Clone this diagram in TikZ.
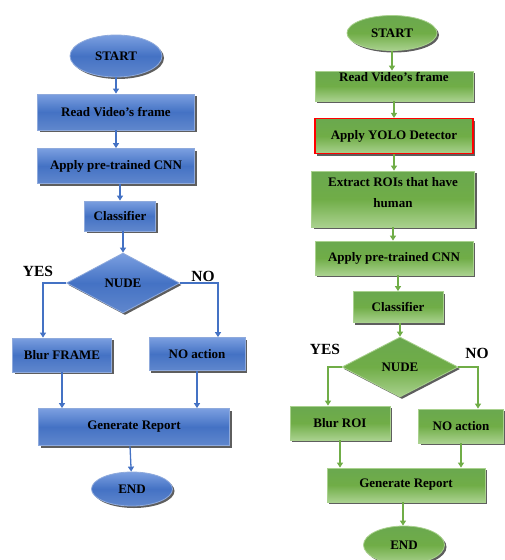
\documentclass[tikz,border=0pt]{standalone}
\usepackage{fontspec}
\setmainfont{Liberation Serif}
\usepackage{xcolor}
\usetikzlibrary{shapes.geometric,shadows,arrows.meta}

\definecolor{bluetop}{HTML}{7B9FE0}
\definecolor{bluemid}{HTML}{4472C4}
\definecolor{blueline}{HTML}{8FAADC}
\definecolor{greentop}{HTML}{6AA84F}
\definecolor{greenmid}{HTML}{70AD47}
\definecolor{greenlow}{HTML}{A9D18E}

\begin{document}
\begin{tikzpicture}[x=1pt,y=-1pt,
  shade/.style={drop shadow={shadow xshift=2pt,shadow yshift=-2pt,fill=black!70,opacity=0.9}},
  bluebox/.style={rectangle,shade,draw=blueline,line width=0.8pt,
    top color=bluetop,bottom color=bluemid!85!white,middle color=bluemid,
    inner sep=0pt,font=\fontsize{13}{15}\selectfont\bfseries},
  greenbox/.style={rectangle,shade,draw=greenlow,line width=0.8pt,
    top color=greentop,bottom color=greenlow,middle color=greenmid,
    inner sep=0pt,font=\fontsize{13}{15}\selectfont\bfseries},
  blueoval/.style={bluebox,ellipse},
  greenoval/.style={greenbox,ellipse},
  bluetest/.style={bluebox,diamond,aspect=2},
  greentest/.style={greenbox,diamond,aspect=2},
  blueflow/.style={draw=bluemid,line width=1.3pt,-{Triangle[width=6pt,length=5pt]}},
  greenflow/.style={draw=greenmid,line width=1.3pt,-{Triangle[width=6pt,length=5pt]}},
  answer/.style={font=\fontsize{15.5}{17}\selectfont\bfseries}]
\useasboundingbox (0,0) rectangle (504,560);

% left chart
\node[blueoval,minimum width=92,minimum height=42] (lstart) at (116,56) {START};
\node[bluebox,minimum width=157,minimum height=36] (lread) at (116,112) {Read Video's frame};
\node[bluebox,minimum width=157,minimum height=35] (lcnn) at (116,166) {Apply pre-trained CNN};
\node[bluebox,minimum width=71,minimum height=30] (lclass) at (120,216) {Classifier};
\node[bluetest,minimum width=113,minimum height=60] (lnude) at (123,283) {NUDE};
\node[bluebox,minimum width=99,minimum height=34] (lblur) at (62,355) {Blur FRAME};
\node[bluebox,minimum width=96,minimum height=33] (lno) at (197,354) {NO action};
\node[bluebox,minimum width=191,minimum height=37] (lrep) at (134,427) {Generate Report};
\node[blueoval,minimum width=81,minimum height=34] (lend) at (132,489) {END};
\node[answer] (lyes) at (38,271) {YES};
\node[answer] (lnolab) at (203,276) {NO};

\draw[blueflow] (lstart) -- (lread);
\draw[blueflow] (lread) -- (lcnn);
\draw[blueflow] (lcnn.south -| lclass) -- (lclass);
\draw[blueflow] (lclass.south -| lnude) -- (lnude);
\draw[blueflow] (lnude.west) -| ([xshift=-19pt]lblur.north);
\draw[blueflow] (lnude.east) -| ([xshift=21pt]lno.north);
\draw[blueflow] (lblur) -- (lblur |- lrep.north);
\draw[blueflow] (lno) -- (lno |- lrep.north);
\draw[blueflow] ([xshift=-4pt]lrep.south) -- (lend);

% right chart
\node[greenoval,minimum width=90,minimum height=35] (rstart) at (392,33) {START};
\node[greenbox,minimum width=158,minimum height=30,text height=9pt,text depth=18pt] (rread) at (394,86) {Read Video's frame};
\node[greenbox,draw=red,line width=1.2pt,minimum width=158,minimum height=35] (ryolo) at (394,136) {Apply YOLO Detector};
\node[greenbox,minimum width=163,minimum height=56,
  label={[anchor=north,yshift=-3pt,align=center,font=\fontsize{13}{21}\selectfont\bfseries]north:Extract ROIs that have\\human}] (rroi) at (393,199) {};
\node[greenbox,minimum width=158,minimum height=34] (rcnn) at (394,258) {Apply pre-trained CNN};
\node[greenbox,minimum width=90,minimum height=31] (rclass) at (398,307) {Classifier};
\node[greentest,minimum width=116,minimum height=60] (rnude) at (400,367) {NUDE};
\node[greenbox,minimum width=100,minimum height=34] (rblur) at (340,423) {Blur ROI};
\node[greenbox,minimum width=85,minimum height=34] (rno) at (461,426) {NO action};
\node[greenbox,minimum width=158,minimum height=34] (rrep) at (406,485) {Generate Report};
\node[greenoval,minimum width=81,minimum height=38] (rend) at (404,545) {END};
\node[answer] (ryes) at (325,349) {YES};
\node[answer] (rnolab) at (477,353) {NO};

\draw[greenflow] (rstart) -- (rstart |- rread.north);
\draw[greenflow] (rread) -- (rread |- ryolo.north);
\draw[greenflow] (ryolo) -- (ryolo |- rroi.north);
\draw[greenflow] (rroi) -- (rroi |- rcnn.north);
\draw[greenflow] (rcnn.south -| rclass) -- (rclass);
\draw[greenflow] (rclass.south -| rnude) -- (rnude);
\draw[greenflow] (rnude.west) -| ([xshift=-12pt]rblur.north);
\draw[greenflow] (rnude.east) -| ([xshift=17pt]rno.north);
\draw[greenflow] (rblur) -- (rblur |- rrep.north);
\draw[greenflow] (rno) -- (rno |- rrep.north);
\draw[greenflow] ([xshift=-3pt]rrep.south) -- ([xshift=-1pt]rend.north);
\end{tikzpicture}
\end{document}
